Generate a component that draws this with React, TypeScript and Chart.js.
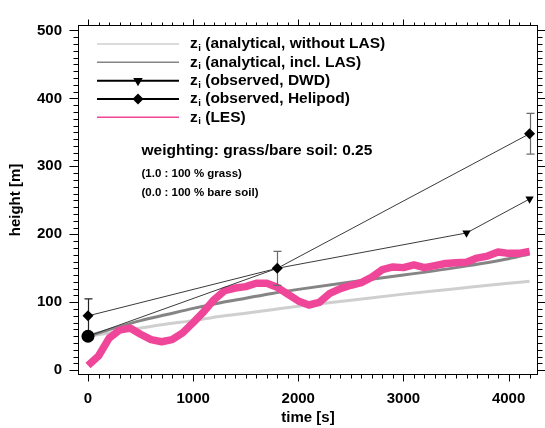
import React, { useEffect, useRef } from 'react';
import { Chart, registerables } from 'chart.js';

Chart.register(...registerables);

const FAMILY = "'Liberation Sans', Arial, Helvetica, sans-serif";

// ---- data ----
const T_ANALYTIC = [0, 250, 500, 750, 1000, 1250, 1500, 1750, 2000, 2500, 3000, 3500, 4000, 4200];
const Z_NO_LAS = [50, 56, 62, 68, 73, 79, 84, 89, 94, 103, 112, 120, 128, 131];
const Z_LAS = [50, 62, 73, 82, 91, 99, 106, 113, 119, 130, 140, 151, 164, 171];

const T_LES = [0, 100, 200, 300, 400, 500, 600, 700, 800, 900, 1000, 1100, 1200, 1300, 1400, 1500, 1600, 1700, 1800, 1900, 2000, 2100, 2200, 2300, 2400, 2500, 2600, 2700, 2800, 2900, 3000, 3100, 3200, 3300, 3400, 3500, 3600, 3700, 3800, 3900, 4000, 4100, 4200];
const Z_LES = [7, 21, 47, 59, 62, 53, 45, 42, 45, 55, 70, 86, 104, 117, 121, 123, 128, 128, 122, 112, 102, 96, 100, 113, 120, 125, 129, 137, 148, 152, 151, 155, 151, 154, 157, 158, 159, 165, 168, 174, 172, 172, 175];

const T_DWD = [0, 1800, 3600, 4200];
const Z_DWD = [50, 150, 202, 252];

const T_HELI = [0, 1800, 4200];
const Z_HELI = [80, 150, 348];
const ERR_HELI = [25, 25, 30];

const X_TICKS = [0, 1000, 2000, 3000, 4000];
const Y_TICKS = [0, 100, 200, 300, 400, 500];

const LEGEND_LABELS = [
  '(analytical, without LAS)',
  '(analytical, incl. LAS)',
  '(observed, DWD)',
  '(observed, Helipod)',
  '(LES)',
];
const NOTE_MAIN = 'weighting: grass/bare soil: 0.25';
const NOTE_1 = '(1.0 : 100 % grass)';
const NOTE_2 = '(0.0 : 100 % bare soil)';

const PINK = '#ef4699';
const LIGHT = '#cfcfcf';
const MID = '#858585';
const THIN = '#3a3a3a';

const pts = (xs: number[], ys: number[]) => xs.map((x, i) => ({ x, y: ys[i] }));

function drawZi(ctx: CanvasRenderingContext2D, x: number, y: number, rest: string, size: number) {
  ctx.font = `bold ${size}px ${FAMILY}`;
  ctx.fillText('z', x, y);
  const w = ctx.measureText('z').width;
  ctx.font = `bold ${size * 0.62}px ${FAMILY}`;
  ctx.fillText('i', x + w + 0.5, y + size * 0.28);
  const wi = ctx.measureText('i').width;
  ctx.font = `bold ${size}px ${FAMILY}`;
  ctx.fillText(' ' + rest, x + w + 0.5 + wi, y);
}

function triDown(ctx: CanvasRenderingContext2D, x: number, y: number, r: number) {
  ctx.beginPath();
  ctx.moveTo(x, y + r);
  ctx.lineTo(x - r * 0.866, y - r * 0.5);
  ctx.lineTo(x + r * 0.866, y - r * 0.5);
  ctx.closePath();
  ctx.fill();
}
function diamond(ctx: CanvasRenderingContext2D, x: number, y: number, r: number) {
  ctx.beginPath();
  ctx.moveTo(x, y - r);
  ctx.lineTo(x + r, y);
  ctx.lineTo(x, y + r);
  ctx.lineTo(x - r, y);
  ctx.closePath();
  ctx.fill();
}

const decor = {
  id: 'decor',
  afterDatasetDraw(chart: any, args: any) {
    if (args.meta.label !== 'LES') return;
    const { ctx, scales } = chart;
    const xs = scales.x, ys = scales.y;
    ctx.save();
    ctx.lineWidth = 1.2;
    T_HELI.forEach((t, i) => {
      const px = Math.round(xs.getPixelForValue(t)) + 0.5;
      const top = ys.getPixelForValue(Z_HELI[i] + ERR_HELI[i]);
      const bot = ys.getPixelForValue(Z_HELI[i] - ERR_HELI[i]);
      ctx.strokeStyle = i === 0 ? '#222' : '#6a6a6a';
      ctx.beginPath();
      ctx.moveTo(px, top); ctx.lineTo(px, bot);
      ctx.moveTo(px - 4, top); ctx.lineTo(px + 4, top);
      ctx.moveTo(px - 4, bot); ctx.lineTo(px + 4, bot);
      ctx.stroke();
    });
    ctx.restore();
  },
  afterDraw(chart: any) {
    const { ctx, chartArea: ca, scales } = chart;
    const xs = scales.x, ys = scales.y;
    ctx.save();
    ctx.strokeStyle = '#000';
    ctx.lineWidth = 1;
    const L = Math.round(ca.left) + 0.5, R = Math.round(ca.right) - 0.5;
    const T = Math.round(ca.top) + 0.5, B = Math.round(ca.bottom) - 0.5;
    ctx.strokeRect(L, T, R - L, B - T);
    ctx.beginPath();
    for (let v = 0; v <= 4200; v += 100) {
      const px = Math.round(xs.getPixelForValue(v)) + 0.5;
      const major = v % 1000 === 0;
      ctx.moveTo(px, B); ctx.lineTo(px, B + (major ? 7 : 4));
      ctx.moveTo(px, T); ctx.lineTo(px, T - (major ? 6 : 3));
    }
    for (let v = 0; v <= 500; v += 10) {
      const py = Math.round(ys.getPixelForValue(v)) + 0.5;
      const major = v % 100 === 0;
      ctx.moveTo(L, py); ctx.lineTo(L - (major ? 9 : 5), py);
      ctx.moveTo(R, py); ctx.lineTo(R + (major ? 9 : 5), py);
    }
    ctx.stroke();

    // legend
    const x0 = 97, x1 = 179, xm = 138, xt = 190;
    const rowY = [44, 62.3, 80.7, 99, 117.3];
    const styles = [
      { c: LIGHT, w: 1.5 },
      { c: MID, w: 1.5 },
      { c: '#000', w: 2 },
      { c: '#000', w: 2 },
      { c: PINK, w: 1.5 },
    ];
    ctx.textBaseline = 'middle';
    ctx.textAlign = 'left';
    ctx.fillStyle = '#000';
    LEGEND_LABELS.forEach((lab, i) => {
      const y = rowY[i];
      ctx.strokeStyle = styles[i].c;
      ctx.lineWidth = styles[i].w;
      ctx.beginPath();
      ctx.moveTo(x0, y); ctx.lineTo(x1, y);
      ctx.stroke();
      ctx.fillStyle = '#000';
      if (i === 2) triDown(ctx, xm, y, 5.5);
      if (i === 3) diamond(ctx, xm, y, 5.5);
      drawZi(ctx, xt, y, lab, 15.5);
    });

    ctx.font = `bold 15.5px ${FAMILY}`;
    ctx.fillText(NOTE_MAIN, 141.5, 151);
    ctx.font = `bold 11.5px ${FAMILY}`;
    ctx.fillText(NOTE_1, 141.5, 173.5);
    ctx.fillText(NOTE_2, 141.5, 192.5);
    ctx.restore();
  },
};

export default function App() {
  const ref = useRef<HTMLCanvasElement>(null);
  useEffect(() => {
    if (!ref.current) return;
    const chart = new Chart(ref.current, {
      type: 'line',
      data: {
        datasets: [
          {
            label: 'Helipod',
            data: pts(T_HELI, Z_HELI),
            borderColor: THIN,
            borderWidth: 1,
            pointStyle: 'rectRot',
            pointRadius: 5.5,
            pointBackgroundColor: '#000',
            pointBorderColor: '#000',
            pointBorderWidth: 0,
            order: 0,
          },
          {
            label: 'DWD',
            data: pts(T_DWD, Z_DWD),
            borderColor: THIN,
            borderWidth: 1,
            pointStyle: ['circle', 'triangle', 'triangle', 'triangle'],
            pointRadius: [6.5, 0, 4.8, 4.8],
            pointRotation: 180,
            pointBackgroundColor: '#000',
            pointBorderColor: '#000',
            pointBorderWidth: 0,
            order: 1,
          },
          {
            label: 'LES',
            data: pts(T_LES, Z_LES),
            borderColor: PINK,
            borderWidth: 7.5,
            pointRadius: 0,
            borderJoinStyle: 'round',
            borderCapStyle: 'butt',
            order: 2,
          },
          {
            label: 'incl LAS',
            data: pts(T_ANALYTIC, Z_LAS),
            borderColor: MID,
            borderWidth: 3,
            pointRadius: 0,
            cubicInterpolationMode: 'monotone',
            order: 3,
          },
          {
            label: 'without LAS',
            data: pts(T_ANALYTIC, Z_NO_LAS),
            borderColor: LIGHT,
            borderWidth: 3,
            pointRadius: 0,
            cubicInterpolationMode: 'monotone',
            order: 4,
          },
        ],
      },
      options: {
        responsive: false,
        animation: false,
        events: [],
        layout: { padding: { top: 8, right: 7, left: 0, bottom: 0 } },
        plugins: { legend: { display: false }, tooltip: { enabled: false }, title: { display: false } },
        scales: {
          x: {
            type: 'linear',
            min: -95,
            max: 4280,
            grid: { display: false, drawTicks: false },
            border: { display: false },
            afterBuildTicks: (s: any) => { s.ticks = X_TICKS.map((v) => ({ value: v })); },
            afterFit: (s: any) => { s.height = 53; },
            ticks: {
              color: '#000',
              padding: 15,
              maxRotation: 0,
              autoSkip: false,
              font: { family: FAMILY, size: 15, weight: 'bold' },
              callback: (v: any) => String(v),
            },
            title: {
              display: true,
              text: 'time [s]',
              color: '#000',
              padding: { top: 0, bottom: 1 },
              font: { family: FAMILY, size: 15, weight: 'bold' },
            },
          },
          y: {
            type: 'linear',
            min: -7,
            max: 508,
            grid: { display: false, drawTicks: false },
            border: { display: false },
            afterBuildTicks: (s: any) => { s.ticks = Y_TICKS.map((v) => ({ value: v })); },
            afterFit: (s: any) => { s.width = 78; },
            ticks: {
              color: '#000',
              padding: 16,
              autoSkip: false,
              font: { family: FAMILY, size: 15, weight: 'bold' },
              callback: (v: any) => String(v),
            },
            title: {
              display: true,
              text: 'height [m]',
              color: '#000',
              padding: { top: 7, bottom: 0 },
              font: { family: FAMILY, size: 15, weight: 'bold' },
            },
          },
        },
      },
      plugins: [decor],
    } as any);
    return () => chart.destroy();
  }, []);
  return (
    <div style={{ position: 'fixed', left: 0, top: 0, width: 545, height: 428, background: '#fff' }}>
      <canvas ref={ref} width={545} height={428} />
    </div>
  );
}
